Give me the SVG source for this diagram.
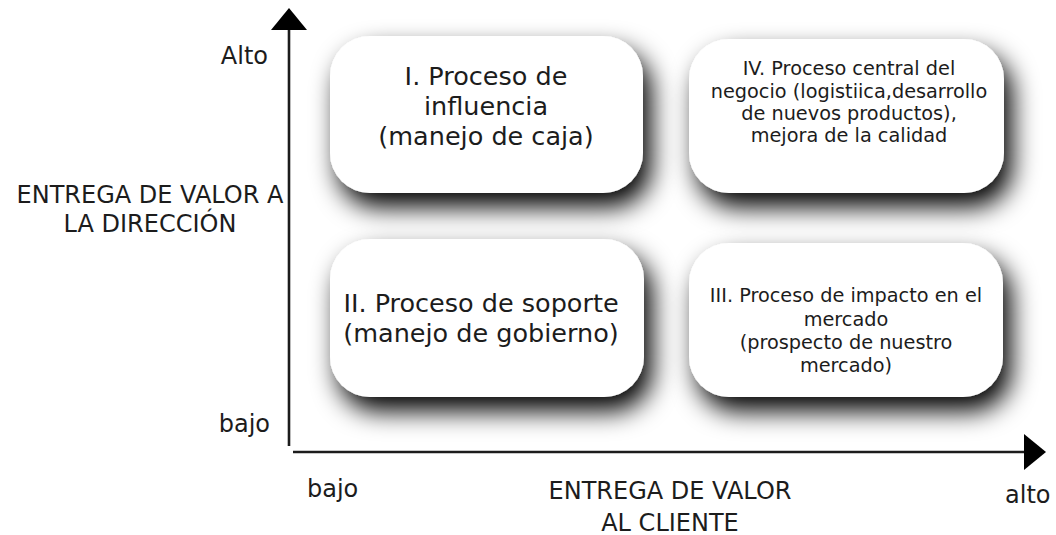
<svg xmlns="http://www.w3.org/2000/svg" width="1056" height="535" viewBox="0 0 1056 535">
<style>
  text { font-family: "DejaVu Sans", "Liberation Sans", sans-serif; fill: #1c1c1c; }
  .ax { font-size: 24px; }
  .big { font-size: 25.5px; text-anchor: middle; }
  .sm { font-size: 19.3px; text-anchor: middle; }
  .box { fill: #ffffff; filter: url(#shadow); }
  .axis { stroke: #1c1c1c; stroke-width: 2.6; fill: none; }
</style>
<defs>
  <filter id="shadow" x="-30%" y="-40%" width="170%" height="190%">
    <feDropShadow dx="8" dy="14" stdDeviation="13" flood-color="#000" flood-opacity="1"/>
  </filter>
  <marker id="arrow" viewBox="0 0 22 36" refX="0" refY="18" markerWidth="22" markerHeight="36" markerUnits="userSpaceOnUse" orient="auto">
    <path d="M0,0 L22,18 L0,36 Z" fill="#000"/>
  </marker>
</defs>
<rect width="1056" height="535" fill="#ffffff"/>

<g id="connectors">
  <line class="axis" x1="289" y1="446" x2="289" y2="30" marker-end="url(#arrow)"/>
  <line class="axis" x1="293" y1="452" x2="1024" y2="452" marker-end="url(#arrow)"/>
</g>

<g id="box-I">
  <rect class="box" x="330" y="36" width="313" height="157" rx="40"/>
  <text class="big" x="486" y="85">I. Proceso de</text>
  <text class="big" x="486" y="115">influencia</text>
  <text class="big" x="486" y="145">(manejo de caja)</text>
</g>

<g id="box-IV">
  <rect class="box" x="689" y="39" width="315" height="154" rx="40"/>
  <text class="sm" x="849" y="75">IV. Proceso central del</text>
  <text class="sm" x="849" y="97.5">negocio (logistiica,desarrollo</text>
  <text class="sm" x="849" y="120">de nuevos productos),</text>
  <text class="sm" x="849" y="142">mejora de la calidad</text>
</g>

<g id="box-II">
  <rect class="box" x="330" y="239" width="314" height="158" rx="40"/>
  <text class="big" x="481" y="312">II. Proceso de soporte</text>
  <text class="big" x="481" y="342">(manejo de gobierno)</text>
</g>

<g id="box-III">
  <rect class="box" x="689" y="243" width="314" height="154" rx="40"/>
  <text class="sm" x="846" y="302">III. Proceso de impacto en el</text>
  <text class="sm" x="846" y="326">mercado</text>
  <text class="sm" x="846" y="349">(prospecto de nuestro</text>
  <text class="sm" x="846" y="372">mercado)</text>
</g>

<g id="axis-labels">
  <text class="ax" x="268" y="64" text-anchor="end">Alto</text>
  <text class="ax" x="150" y="203" text-anchor="middle">ENTREGA DE VALOR A</text>
  <text class="ax" x="150" y="232" text-anchor="middle">LA DIRECCIÓN</text>
  <text class="ax" x="270" y="432" text-anchor="end">bajo</text>
  <text class="ax" x="307" y="497">bajo</text>
  <text class="ax" x="670" y="499" text-anchor="middle">ENTREGA DE VALOR</text>
  <text class="ax" x="670" y="531" text-anchor="middle">AL CLIENTE</text>
  <text class="ax" x="1005" y="503">alto</text>
</g>
</svg>
